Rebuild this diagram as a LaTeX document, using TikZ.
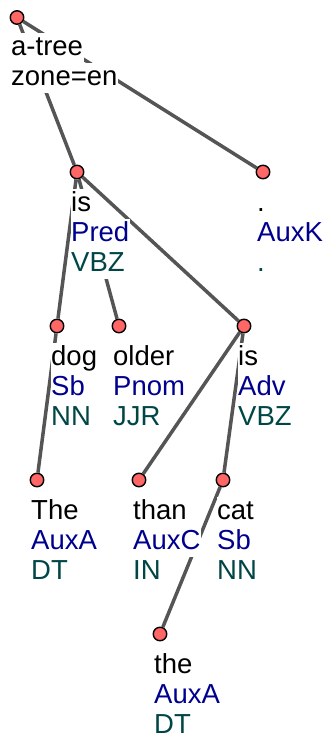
\documentclass[tikz,border=0pt]{standalone}
\usepackage{fontspec}
\setmainfont{Liberation Sans}
\usepackage{xcolor}
\usetikzlibrary{positioning}

\definecolor{nodered}{HTML}{FF6666}
\definecolor{edgegray}{HTML}{555555}
\definecolor{afunblue}{HTML}{00008F}
\definecolor{tagteal}{HTML}{004646}

\tikzset{
  tnode/.style={circle, draw=black, line width=1.4pt, fill=nodered, minimum size=13.5pt, inner sep=0pt},
  tedge/.style={draw=edgegray, line width=3.5pt},
  textline/.style={anchor=base west, fill=white, inner xsep=0.5pt, inner ysep=0pt,
    text height=22pt, text depth=8pt, font=\fontsize{27.5}{30}\selectfont},
  wordline/.style={textline, text=black},
  afunline/.style={textline, text=afunblue},
  tagline/.style={textline, text=tagteal}
}

\newcommand{\nodelabel}[4]{%
  \node[wordline] (#1-w) at ([shift={(-6.5pt,-39pt)}]#1) {#2};
  \node[afunline] (#1-a) at ([shift={(-6.5pt,-69pt)}]#1) {#3};
  \node[tagline] (#1-t) at ([shift={(-6.5pt,-99pt)}]#1) {#4};
}

\begin{document}
\begin{tikzpicture}[on grid]
       \useasboundingbox (0,0) rectangle (326pt,-738pt);
       \node[tnode] (root) at (17pt,-17.5pt) {};
       \node[tnode] (isP) [below right=154.5pt and 60pt of root] {};
       \node[tnode] (dot) [right=186pt of isP] {};
       \node[tnode] (dog) [below left=154pt and 20pt of isP] {};
       \node[tnode] (older) [right=62pt of dog] {};
       \node[tnode] (isA) [right=125pt of older] {};
       \node[tnode] (The) [below left=154pt and 20pt of dog] {};
       \node[tnode] (than) [right=102pt of The] {};
       \node[tnode] (cat) [right=84pt of than] {};
       \node[tnode] (the) [below left=154pt and 63pt of cat] {};

       \path[tedge]
       (root) -- (isP)
       (root) -- (dot)
       (isP) -- (dog)
       (isP) -- (older)
       (isP) -- (isA)
       (dog) -- (The)
       (isA) -- (than)
       (isA) -- (cat)
       (cat) -- (the);

       \node[wordline] (root-w) at ([shift={(-6.5pt,-38pt)}]root) {a-tree};
       \node[wordline] (root-z) at ([shift={(-6.5pt,-68pt)}]root) {zone=en};
       \nodelabel{isP}{is}{Pred}{VBZ}
       \nodelabel{dot}{.}{AuxK}{.}
       \nodelabel{dog}{dog}{Sb}{NN}
       \nodelabel{older}{older}{Pnom}{JJR}
       \nodelabel{isA}{is}{Adv}{VBZ}
       \nodelabel{The}{The}{AuxA}{DT}
       \nodelabel{than}{than}{AuxC}{IN}
       \nodelabel{cat}{cat}{Sb}{NN}
       \nodelabel{the}{the}{AuxA}{DT}
\end{tikzpicture}
\end{document}
